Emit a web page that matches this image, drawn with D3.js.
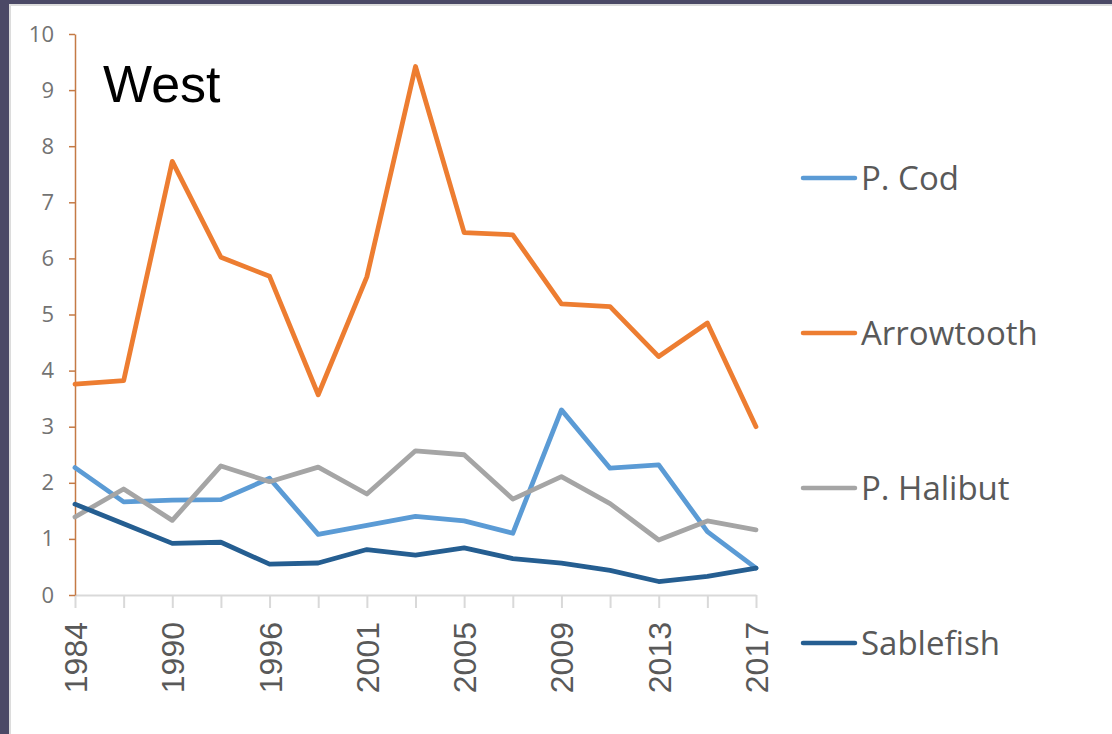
<!DOCTYPE html>
<html>
<head>
<meta charset="utf-8">
<script src="https://cdn.jsdelivr.net/npm/d3@7"></script>
<style>
  html, body { margin: 0; padding: 0; background: #ffffff; }
  svg { display: block; }
</style>
</head>
<body>
<svg id="chart" width="1112" height="734"></svg>
<script>
// Survey years along the category axis
const years = ["1984","1987","1990","1993","1996","1999","2001","2003","2005","2007","2009","2011","2013","2015","2017"];
// Years that carry a printed label
const labeledYears = ["1984","1990","1996","2001","2005","2009","2013","2017"];
// Y axis ticks
const yTicks = [0,1,2,3,4,5,6,7,8,9,10];

// Series values, one per survey year
const pCod       = [2.27,1.66,1.69,1.70,2.08,1.08,1.24,1.40,1.32,1.10,3.30,2.26,2.32,1.13,0.48];
const arrowtooth = [3.76,3.82,7.73,6.02,5.68,3.57,5.67,9.42,6.46,6.42,5.19,5.14,4.25,4.85,3.00];
const pHalibut   = [1.39,1.89,1.33,2.30,2.02,2.28,1.80,2.57,2.50,1.71,2.11,1.63,0.98,1.32,1.16];
const sablefish  = [1.62,1.27,0.92,0.94,0.55,0.57,0.81,0.71,0.84,0.65,0.57,0.44,0.24,0.33,0.48];

const seriesNames  = ["P. Cod","Arrowtooth","P. Halibut","Sablefish"];
const seriesValues = [pCod, arrowtooth, pHalibut, sablefish];
const seriesColors = ["#5b9bd5","#ed7d31","#a5a5a5","#255e91"];

const svg = d3.select("#chart");
const W = 1112, H = 734;

// Slide frame: dark band along top and left with a thin light edge
svg.append("rect").attr("x",0).attr("y",0).attr("width",W).attr("height",H).attr("fill","#4b4966");
svg.append("rect").attr("x",9).attr("y",4).attr("width",W-9).attr("height",H-4).attr("fill","#dcdcdc");
svg.append("rect").attr("x",11).attr("y",6).attr("width",W-11).attr("height",H-6).attr("fill","#ffffff");

const plot = {left: 75, right: 756, top: 34, bottom: 595};

const x = d3.scalePoint().domain(years).range([plot.left, plot.right]);
const y = d3.scaleLinear().domain([0, 10]).range([plot.bottom, plot.top]);

// X axis: light gray baseline with a tick at every category
const xAxis = svg.append("g")
  .attr("transform", `translate(0,${plot.bottom})`)
  .call(d3.axisBottom(x).tickSize(13).tickSizeOuter(0).tickFormat(""));
xAxis.select(".domain").attr("stroke", "#d9d9d9").attr("stroke-width", 2);
xAxis.selectAll(".tick line").attr("stroke", "#d9d9d9").attr("stroke-width", 2);

// Rotated year labels
svg.append("g").selectAll("text")
  .data(labeledYears)
  .join("text")
  .attr("transform", d => `translate(${x(d) + 12},${622}) rotate(-90)`)
  .attr("text-anchor", "end")
  .attr("font-family", "'Liberation Sans', Arial, sans-serif")
  .attr("font-size", 32)
  .attr("fill", "#595959")
  .text(d => d);

// Y axis
const yAxis = svg.append("g")
  .attr("transform", `translate(${plot.left},0)`)
  .call(d3.axisLeft(y).tickValues(yTicks).tickSize(6).tickSizeOuter(0).tickPadding(15));
yAxis.select(".domain").attr("stroke", "#c47a45").attr("stroke-width", 1.5);
yAxis.selectAll(".tick line").attr("stroke", "#c47a45").attr("stroke-width", 1.5);
yAxis.selectAll(".tick text")
  .attr("font-family", "'Open Sans', sans-serif")
  .attr("font-size", 22)
  .attr("fill", "#737373");

// Series lines
const line = d3.line()
  .x((d, i) => x(years[i]))
  .y(d => y(d));

svg.append("g").selectAll("path")
  .data(seriesValues)
  .join("path")
  .attr("d", d => line(d))
  .attr("fill", "none")
  .attr("stroke", (d, i) => seriesColors[i])
  .attr("stroke-width", 4.8)
  .attr("stroke-linejoin", "round")
  .attr("stroke-linecap", "round");

// Panel title
svg.append("text")
  .attr("x", 103)
  .attr("y", 102)
  .attr("font-family", "'Liberation Sans', Arial, sans-serif")
  .attr("font-size", 52)
  .attr("fill", "#000000")
  .text("West");

// Legend
const legendY = [178, 333, 488, 643];
const legend = svg.append("g").selectAll("g")
  .data(seriesNames)
  .join("g")
  .attr("transform", (d, i) => `translate(803,${legendY[i]})`);
legend.append("line")
  .attr("x1", 0).attr("x2", 52)
  .attr("y1", 0).attr("y2", 0)
  .attr("stroke", (d, i) => seriesColors[i])
  .attr("stroke-width", 4.5)
  .attr("stroke-linecap", "round");
legend.append("text")
  .attr("x", 58)
  .attr("y", 12)
  .attr("font-family", "'Open Sans', sans-serif")
  .attr("font-size", 33)
  .attr("fill", "#595959")
  .text(d => d);
</script>
</body>
</html>
